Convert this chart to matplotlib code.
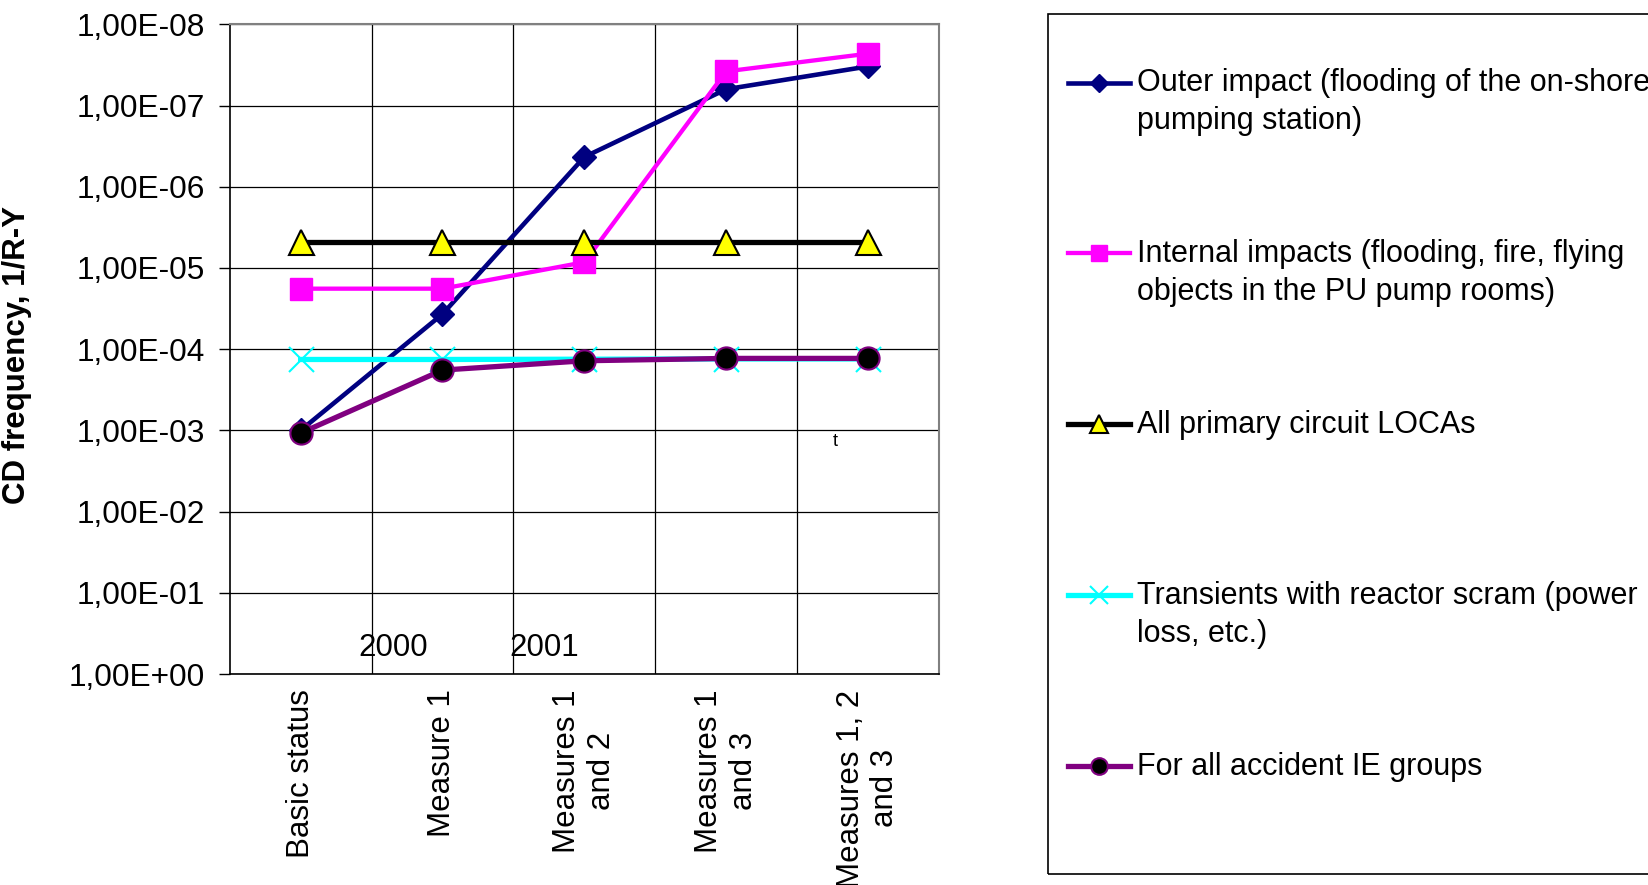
import matplotlib
matplotlib.use("Agg")
import matplotlib.pyplot as plt
import numpy as np
from matplotlib.legend_handler import HandlerLine2D
from matplotlib.patches import Rectangle

plt.rcParams["font.family"] = ["Liberation Sans", "DejaVu Sans"]

categories = ["Basic status", "Measure 1", "Measures 1\nand 2", "Measures 1\nand 3", "Measures 1, 2\nand 3"]

outer_impact = [1.0e-3, 3.7e-5, 4.3e-7, 6.3e-8, 3.3e-8]
internal_impacts = [1.8e-5, 1.8e-5, 8.5e-6, 3.8e-8, 2.3e-8]
primary_locas = [4.75e-6, 4.75e-6, 4.75e-6, 4.75e-6, 4.75e-6]
transients = [1.34e-4, 1.34e-4, 1.33e-4, 1.32e-4, 1.32e-4]
all_groups = [1.08e-3, 1.81e-4, 1.39e-4, 1.30e-4, 1.30e-4]

series_labels = [
    "Outer impact (flooding of the on-shore\npumping station)",
    "Internal impacts (flooding, fire, flying\nobjects in the PU pump rooms)",
    "All primary circuit LOCAs\n ",
    "Transients with reactor scram (power\nloss, etc.)",
    "For all accident IE groups\n ",
]

ytick_values = [1e0, 1e-1, 1e-2, 1e-3, 1e-4, 1e-5, 1e-6, 1e-7, 1e-8]
ytick_labels = ["1,00E+00", "1,00E-01", "1,00E-02", "1,00E-03", "1,00E-04",
                "1,00E-05", "1,00E-06", "1,00E-07", "1,00E-08"]

annot_text = ["2000", "2001", "t"]
annot_x = [0.65, 1.72, 3.77]
annot_y = [0.48, 0.48, 1.36e-3]

FS = 22.8
LEG_FS = 22


class FirstLineHandler(HandlerLine2D):
    # put the legend handle next to the first text line, like Excel does
    def create_artists(self, legend, orig_handle, xdescent, ydescent,
                       width, height, fontsize, trans):
        artists = super().create_artists(legend, orig_handle, xdescent, ydescent,
                                         width, height, fontsize, trans)
        for a in artists:
            a.set_ydata(np.asarray(a.get_ydata()) + 0.67 * fontsize)
        return artists


W, H = 1649, 885
fig = plt.figure(figsize=(W / 100, H / 100), dpi=100)
ax = fig.add_axes([229.7 / W, 1 - 674 / H, (939 - 229.7) / W, (674 - 24.3) / H])

x = np.arange(len(categories))

h1, = ax.plot(x, outer_impact, color="#000080", lw=3.3, marker="D", ms=12,
              mfc="#000080", mec="#000080", label=series_labels[0])
h2, = ax.plot(x, internal_impacts, color="#FF00FF", lw=3.1, marker="s", ms=16,
              mfc="#FF00FF", mec="#FF00FF", label=series_labels[1])
h3, = ax.plot(x, primary_locas, color="black", lw=3.8, marker="^", ms=18,
              mfc="#FFFF00", mec="black", mew=1.5, label=series_labels[2])
h4, = ax.plot(x, transients, color="#00FFFF", lw=3.8, marker="x", ms=18,
              mec="#00FFFF", mew=1.5, label=series_labels[3])
h5, = ax.plot(x, all_groups, color="#800080", lw=3.8, marker="o", ms=16,
              mfc="black", mec="#800080", mew=1.5, label=series_labels[4])

ax.set_yscale("log")
ax.set_ylim(1e0, 1e-8)
ax.set_yticks(ytick_values)
ax.set_yticklabels(ytick_labels, fontsize=FS)
ax.yaxis.set_minor_locator(matplotlib.ticker.NullLocator())
ax.tick_params(axis="y", direction="out", length=8, width=1, pad=10)

ax.set_xlim(-0.5, len(categories) - 0.5)
ax.set_xticks(x)
ax.set_xticklabels(categories, rotation=90, fontsize=22.5, va="top", ha="center")
ax.set_xticks(x[:-1] + 0.5, minor=True)
ax.tick_params(axis="x", which="both", length=0, pad=11)

ax.grid(True, axis="y", which="major", color="black", lw=0.9)
ax.grid(True, axis="x", which="minor", color="black", lw=0.9)
ax.set_axisbelow(True)

for s in ["top", "right"]:
    ax.spines[s].set_color("#808080")
    ax.spines[s].set_linewidth(1.5)
for s in ["left", "bottom"]:
    ax.spines[s].set_color("black")
    ax.spines[s].set_linewidth(1.2)

ax.set_ylabel("CD frequency, 1/R-Y", fontsize=22.5, fontweight="bold")
ax.yaxis.set_label_coords(32.5 / W, 1 - 355 / H, transform=fig.transFigure)

for t, tx, ty in zip(annot_text, annot_x, annot_y):
    ax.text(tx, ty, t, fontsize=13 if t == "t" else 22.5, ha="center", va="center")

# legend frame (right edge runs off the picture)
fig.patches.append(Rectangle((1048.5 / W, 1 - 874 / H), 0.5, (874 - 13.7) / H,
                             transform=fig.transFigure, fill=False,
                             edgecolor="black", lw=1.2))

leg = fig.legend(handles=[h1, h2, h3, h4, h5], labels=series_labels,
                 loc="upper left", bbox_to_anchor=(1067.5 / W, 1 - 68.5 / H),
                 frameon=False, fontsize=LEG_FS, borderpad=0, borderaxespad=0,
                 handlelength=2.05, handletextpad=0.22, labelspacing=3.39,
                 handler_map={matplotlib.lines.Line2D: FirstLineHandler(numpoints=1)})
for t in leg.get_texts():
    t.set_linespacing(1.32)
for h in leg.legend_handles:
    h.set_markersize(h.get_markersize() * 0.75)

fig.savefig("out.png", dpi=100)
